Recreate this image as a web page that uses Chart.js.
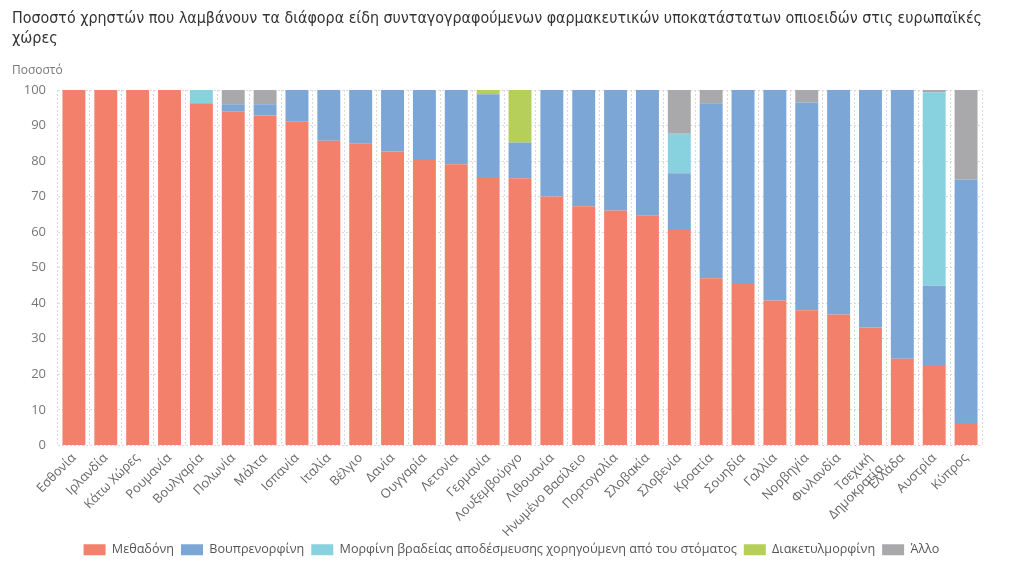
<!DOCTYPE html>
<html><head><meta charset="utf-8">
<script src="https://cdn.jsdelivr.net/npm/chart.js@4/dist/chart.umd.min.js"></script>
<style>html,body{margin:0;padding:0;background:#fff;}canvas{display:block;}</style>
</head><body>
<canvas id="c" width="1023" height="570"></canvas>
<script>
const categories = ["Εσθονία","Ιρλανδία","Κάτω Χώρες","Ρουμανία","Βουλγαρία","Πολωνία","Μάλτα","Ισπανία","Ιταλία","Βέλγιο","Δανία","Ουγγαρία","Λετονία","Γερμανία","Λουξεμβούργο","Λιθουανία","Ηνωμένο Βασίλειο","Πορτογαλία","Σλοβακία","Σλοβενία","Κροατία","Σουηδία","Γαλλία","Νορβηγία","Φινλανδία",["Τσεχική","Δημοκρατία"],"Ελλάδα","Αυστρία","Κύπρος"];
const methadone     = [100,100,100,100,96.3,93.9,92.8,91.2,85.7,84.9,82.7,80.3,79.1,75.5,75.2,70.0,67.3,66.1,64.6,60.6,47.0,45.4,40.8,38.0,36.8,33.2,24.4,22.6,6.3];
const buprenorphine = [0,0,0,0,0,2.1,3.2,8.8,14.3,15.1,17.3,19.7,20.9,23.3,10.0,30.0,32.7,33.9,35.4,16.0,49.3,54.6,59.2,58.5,63.2,66.8,75.6,22.3,68.5];
const morphine      = [0,0,0,0,3.7,0,0,0,0,0,0,0,0,0,0,0,0,0,0,11.1,0,0,0,0,0,0,0,54.5,0];
const diacetylmorphine = [0,0,0,0,0,0,0,0,0,0,0,0,0,1.2,14.8,0,0,0,0,0,0,0,0,0,0,0,0,0,0];
const other         = [0,0,0,0,0,4.0,4.0,0,0,0,0,0,0,0,0,0,0,0,0,12.3,3.7,0,0,3.5,0,0,0,0.6,25.2];
const seriesNames = ["Μεθαδόνη","Βουπρενορφίνη","Μορφίνη βραδείας αποδέσμευσης χορηγούμενη από του στόματος","Διακετυλμορφίνη","Άλλο"];
const yTicks = [0,10,20,30,40,50,60,70,80,90,100];
const titleLines = ["Ποσοστό χρηστών που λαμβάνουν τα διάφορα είδη συνταγογραφούμενων φαρμακευτικών υποκατάστατων οπιοειδών στις ευρωπαϊκές","χώρες"];
const yAxisLabel = "Ποσοστό";

const colors = ["#f2806a","#7ca6d6","#88d1df","#b5cf5a","#a9a9ac"];
const seriesData = [methadone,buprenorphine,morphine,diacetylmorphine,other];

const centerLegend = {
  id:"centerLegend",
  afterLayout(chart){
    const lg = chart.legend; if(!lg) return;
    const shift = chart.width/2 - (lg.left+lg.right)/2;
    lg.left += shift; lg.right += shift;
  }
};

new Chart(document.getElementById("c"), {
  type:"bar",
  data:{
    labels:categories,
    datasets:seriesNames.map((n,i)=>({label:n,data:seriesData[i],backgroundColor:colors[i],borderWidth:0,barPercentage:0.9,categoryPercentage:0.8}))
  },
  plugins:[centerLegend],
  options:{
    responsive:false, animation:false, devicePixelRatio:1,
    layout:{padding:{left:12,right:41,top:0,bottom:4}},
    plugins:{
      title:{display:true,text:titleLines,align:"start",color:"#333",font:{family:"'Liberation Sans Narrow','DejaVu Sans Condensed',sans-serif",size:16,weight:"normal",lineHeight:1.3},padding:{top:8,bottom:14}},
      subtitle:{display:true,text:yAxisLabel,align:"start",color:"#777",font:{family:"'Open Sans',sans-serif",size:12},padding:{top:0,bottom:12}},
      legend:{position:"bottom",labels:{boxWidth:22,boxHeight:11,color:"#555",font:{family:"'Open Sans',sans-serif",size:12.6},padding:7}},
      tooltip:{enabled:false}
    },
    scales:{
      x:{stacked:true,grid:{display:true,offset:true,color:"#d9d9d9",tickLength:0},border:{display:false,dash:[2,2]},
         afterFit:(s)=>{s.height=91;},
         ticks:{color:"#666",font:{family:"'Open Sans',sans-serif",size:12.8},maxRotation:45,minRotation:45,autoSkip:false,padding:5}},
      y:{stacked:true,min:0,max:100,afterBuildTicks:(s)=>{s.ticks=yTicks.map(v=>({value:v}));},
         afterFit:(s)=>{s.width=46;},
         grid:{color:"#d9d9d9",tickLength:0},border:{display:false,dash:[2,2]},
         ticks:{color:"#777",font:{family:"'Open Sans',sans-serif",size:13},padding:12}}
    }
  }
});
</script>
</body></html>
